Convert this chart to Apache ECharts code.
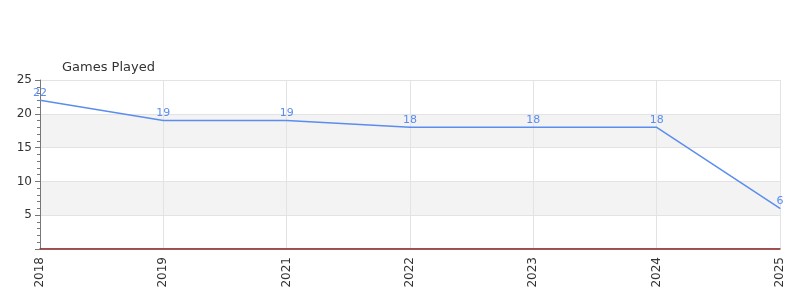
<!DOCTYPE html>
<html><head><meta charset="utf-8">
<script src="https://cdn.jsdelivr.net/npm/echarts@6/dist/echarts.min.js"></script>
<style>html,body{margin:0;padding:0;background:#fff}#c{width:800px;height:300px}</style>
</head><body><div id="c"></div>
<script>
const categories = ['2018','2019','2021','2022','2023','2024','2025'];
const gamesPlayed = [22,19,19,18,18,18,6];
const baseline = [0,0,0,0,0,0,0];
const chart = echarts.init(document.getElementById('c'));
chart.setOption({
  animation:false,
  title:{text:'Games Played',left:57,top:56,textStyle:{fontSize:13,fontWeight:'normal',color:'#333',fontFamily:'DejaVu Sans'}},
  grid:{left:40,right:20,top:80,bottom:51},
  xAxis:{type:'category',data:categories,boundaryGap:false,
    axisLine:{lineStyle:{color:'#555',width:1.5}},
    axisTick:{show:false},
    axisLabel:{rotate:90,color:'#333',fontSize:12,fontFamily:'DejaVu Sans'},
    splitLine:{show:true,lineStyle:{color:'#e3e3e3'}}},
  yAxis:{type:'value',min:0,max:25,interval:5,
    axisLine:{show:true,lineStyle:{color:'#777'}},
    axisTick:{show:true,length:5},
    minorTick:{show:true,splitNumber:5,length:3},
    axisLabel:{showMinLabel:false,color:'#333',fontSize:12,fontFamily:'DejaVu Sans'},
    splitLine:{lineStyle:{color:'#e3e3e3'}},
    splitArea:{show:true,areaStyle:{color:['#ffffff','#f3f3f3']}}},
  series:[
    {type:'line',data:baseline,showSymbol:false,lineStyle:{color:'#d11',width:1},itemStyle:{color:'#d11'},z:1},
    {type:'line',data:gamesPlayed,symbol:'circle',showSymbol:true,symbolSize:1,lineStyle:{color:'#5b8def',width:1.5},itemStyle:{color:'#5b8def'},
     label:{show:true,position:'top',color:'#5b8def',fontSize:11,fontFamily:'DejaVu Sans',distance:1},z:3}
  ]
});
</script></body></html>
